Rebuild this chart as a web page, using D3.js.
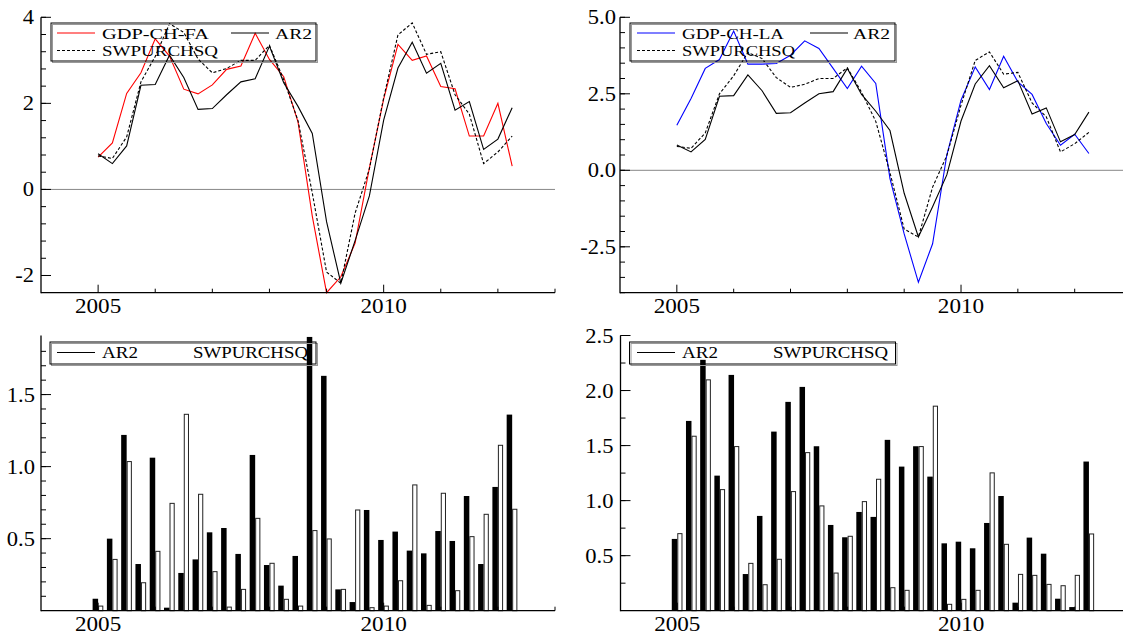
<!DOCTYPE html>
<html>
<head>
<meta charset="utf-8">
<script src="https://cdn.jsdelivr.net/npm/d3@7"></script>
<style>
  body { margin: 0; background: #fff; }
  svg { display: block; font-family: "Liberation Serif", "Times New Roman", serif; }
</style>
</head>
<body>
<div id="chart"></div>
<script>
// quarterly observations, 2005Q1 .. 2012Q2
let quarters = [
    "2005Q1", "2005Q2", "2005Q3", "2005Q4", "2006Q1", "2006Q2", "2006Q3", "2006Q4",
    "2007Q1", "2007Q2", "2007Q3", "2007Q4", "2008Q1", "2008Q2", "2008Q3", "2008Q4",
    "2009Q1", "2009Q2", "2009Q3", "2009Q4", "2010Q1", "2010Q2", "2010Q3", "2010Q4",
    "2011Q1", "2011Q2", "2011Q3", "2011Q4", "2012Q1", "2012Q2"
];

let gdpFA = [0.75, 1.08, 2.23, 2.71, 3.5, 3.1, 2.33, 2.22, 2.43, 2.79, 2.87, 3.63, 3.02, 2.62, 1.57,
    -0.62, -2.4, -2.03, -1.25, 0.5, 2.1, 3.37, 3.0, 3.1, 2.39, 2.34, 1.24, 1.24, 2.0, 0.54];
let gdpLA = [1.47, 2.35, 3.33, 3.62, 4.55, 3.47, 3.47, 3.49, 3.76, 4.23, 3.98, 3.33, 2.67, 3.4, 2.84,
    -0.27, -2.08, -3.66, -2.4, 0.5, 2.29, 3.38, 2.64, 3.73, 2.89, 2.48, 1.53, 0.82, 1.18, 0.55];
let ar2 = [0.83, 0.6, 1.01, 2.42, 2.44, 3.12, 2.6, 1.86, 1.88, 2.2, 2.5, 2.57, 3.33, 2.48, 1.93,
    1.3, -0.75, -2.18, -1.19, -0.15, 1.61, 2.82, 3.42, 2.7, 2.93, 1.84, 2.04, 0.93, 1.17, 1.9];
let swpurchsq = [0.78, 0.72, 1.22, 2.5, 3.09, 3.85, 3.65, 3.03, 2.71, 2.81, 3.0, 3.0, 3.35, 2.55, 1.6,
    -0.08, -1.92, -2.18, -0.55, 0.48, 2.13, 3.59, 3.87, 3.14, 3.2, 2.2, 1.75, 0.6, 0.87, 1.24];

// absolute forecast errors (bars)
let errAR2FA = [0.083, 0.5, 1.22, 0.324, 1.062, 0.021, 0.262, 0.356, 0.544, 0.574, 0.394, 1.081, 0.317, 0.174, 0.38,
    1.9, 1.63, 0.148, 0.06, 0.699, 0.491, 0.549, 0.417, 0.398, 0.553, 0.484, 0.796, 0.324, 0.859, 1.361];
let errSWPFA = [0.032, 0.356, 1.035, 0.194, 0.412, 0.745, 1.363, 0.808, 0.271, 0.025, 0.148, 0.641, 0.329, 0.079, 0.032,
    0.556, 0.498, 0.148, 0.699, 0.021, 0.032, 0.208, 0.873, 0.037, 0.815, 0.139, 0.514, 0.669, 1.148, 0.704];
let errAR2LA = [0.652, 1.724, 2.279, 1.227, 2.142, 0.333, 0.861, 1.627, 1.897, 2.033, 1.494, 0.779, 0.667, 0.897, 0.852,
    1.552, 1.309, 1.494, 1.218, 0.612, 0.627, 0.567, 0.797, 1.042, 0.073, 0.664, 0.518, 0.109, 0.033, 1.355];
let errSWPLA = [0.7, 1.585, 2.097, 1.1, 1.491, 0.43, 0.236, 0.467, 1.082, 1.436, 0.952, 0.342, 0.676, 0.991, 1.194,
    0.209, 0.185, 1.491, 1.858, 0.058, 0.103, 0.185, 1.252, 0.603, 0.33, 0.321, 0.239, 0.227, 0.321, 0.697];

let xTickLabels = [2005, 2010];

let WIDTH = 1129, HEIGHT = 637;

// quarter string -> decimal year
function toYear(q) {
    return +q.slice(0, 4) + (+q.slice(5) - 1) / 4;
}

let svg = d3.select("#chart").append("svg")
    .attr("width", WIDTH)
    .attr("height", HEIGHT);

// horizontally stretched text, like the original figure
function stretchedText(parent, x, y, txt, size, anchor, sx) {
    parent.append("g")
        .attr("transform", `translate(${x},${y}) scale(${sx},1)`)
        .append("text")
        .attr("text-anchor", anchor)
        .attr("font-size", size)
        .attr("fill", "#000")
        .text(txt);
}

/**
 * Draw the axes frame (left + bottom), inward ticks and labels.
 */
function drawAxes(g, x, y, opts) {
    let [x0, x1] = x.range();
    let [y0, y1] = y.range();

    // x ticks: one per year, major on labelled years
    let years = d3.range(Math.ceil(x.domain()[0]) + 1, Math.floor(x.domain()[1]) + 1);
    years.forEach(yr => {
        let major = xTickLabels.includes(yr);
        g.append("line")
            .attr("x1", x(yr)).attr("x2", x(yr))
            .attr("y1", y0).attr("y2", y0 - (major ? 8 : 4))
            .attr("stroke", "#000").attr("stroke-width", 1);
    });
    xTickLabels.forEach(yr => {
        stretchedText(g, x(yr), y0 + 20.5, yr, 20.5, "middle", 1.13);
    });

    // y ticks
    opts.minorTicks.forEach(v => {
        g.append("line")
            .attr("x1", x0).attr("x2", x0 + 5)
            .attr("y1", y(v)).attr("y2", y(v))
            .attr("stroke", "#000").attr("stroke-width", 1);
    });
    opts.majorTicks.forEach((v, i) => {
        g.append("line")
            .attr("x1", x0).attr("x2", x0 + 10)
            .attr("y1", y(v)).attr("y2", y(v))
            .attr("stroke", "#000").attr("stroke-width", 1);
        stretchedText(g, x0 - opts.labelGap, y(v) + 7, opts.labels[i], 20.5, "end", 1.1);
    });

    // axis lines
    g.append("line")
        .attr("x1", x0).attr("x2", x0).attr("y1", y0 + 0.5).attr("y2", y1)
        .attr("stroke", "#000").attr("stroke-width", 1.3);
    g.append("line")
        .attr("x1", x0).attr("x2", x1).attr("y1", y0).attr("y2", y0)
        .attr("stroke", "#000").attr("stroke-width", 1.3);
}

/**
 * Legend box (transparent, with a light shadow) and its entries.
 */
function drawLegend(g, box, items, fontSize) {
    g.append("rect")
        .attr("x", box.x + 1.5).attr("y", box.y + 1.5)
        .attr("width", box.w).attr("height", box.h)
        .attr("fill", "none").attr("stroke", "#999").attr("stroke-width", 1);
    g.append("rect")
        .attr("x", box.x).attr("y", box.y)
        .attr("width", box.w).attr("height", box.h)
        .attr("fill", "none").attr("stroke", "#000").attr("stroke-width", 1);

    items.forEach(it => {
        if (it.color) {
            g.append("line")
                .attr("x1", it.x).attr("x2", it.x + 38)
                .attr("y1", it.y).attr("y2", it.y)
                .attr("stroke", it.color).attr("stroke-width", 1.1)
                .attr("stroke-dasharray", it.dash || null);
        }
        g.append("text")
            .attr("x", it.tx).attr("y", it.y + 5.5)
            .attr("font-size", fontSize)
            .attr("textLength", it.tw)
            .attr("lengthAdjust", "spacingAndGlyphs")
            .text(it.label);
    });
}

function drawLinePanel(cfg) {
    let g = svg.append("g");
    let x = d3.scaleLinear().domain(cfg.xDomain).range(cfg.xRange);
    let y = d3.scaleLinear().domain(cfg.yDomain).range([292.7, 17.3]);

    // zero line
    g.append("line")
        .attr("x1", cfg.xRange[0]).attr("x2", cfg.xRange[1])
        .attr("y1", y(0)).attr("y2", y(0))
        .attr("stroke", "#888").attr("stroke-width", 1);

    cfg.series.forEach(s => {
        let line = d3.line()
            .x((d, i) => x(toYear(quarters[i])))
            .y(d => y(d));
        g.append("path")
            .datum(s.values)
            .attr("d", line)
            .attr("fill", "none")
            .attr("stroke", s.color)
            .attr("stroke-width", 1.1)
            .attr("stroke-dasharray", s.dash || null);
    });

    drawAxes(g, x, y, cfg.axis);
    drawLegend(g, cfg.legendBox, cfg.legendItems, 15.5);
}

function drawBarPanel(cfg) {
    let g = svg.append("g");
    let x = d3.scaleLinear().domain(cfg.xDomain).range(cfg.xRange);
    let y = d3.scaleLinear().domain(cfg.yDomain).range([610.7, 335.5]);

    let blackW = 5.5, whiteW = 4.2;

    g.selectAll("rect.ar2")
        .data(cfg.black)
        .enter().append("rect")
        .attr("class", "ar2")
        .attr("x", (d, i) => x(toYear(quarters[i])) - blackW)
        .attr("y", d => y(d))
        .attr("width", blackW)
        .attr("height", d => y(0) - y(d))
        .attr("fill", "#000");

    g.selectAll("rect.swp")
        .data(cfg.white)
        .enter().append("rect")
        .attr("class", "swp")
        .attr("x", (d, i) => x(toYear(quarters[i])) + 0.5)
        .attr("y", d => y(d))
        .attr("width", whiteW)
        .attr("height", d => y(0) - y(d))
        .attr("fill", "#fff")
        .attr("stroke", "#222")
        .attr("stroke-width", 1);

    drawAxes(g, x, y, cfg.axis);
    drawLegend(g, cfg.legendBox, cfg.legendItems, 17);
}

// top-left: GDP-CH-FA
drawLinePanel({
    xDomain: [2004, 2013], xRange: [41, 555],
    yDomain: [-2.4, 4.0],
    series: [
        { values: gdpFA, color: "#ff0000" },
        { values: ar2, color: "#000" },
        { values: swpurchsq, color: "#000", dash: "3,2" }
    ],
    axis: {
        majorTicks: [-2, 0, 2, 4], labels: ["-2", "0", "2", "4"],
        minorTicks: d3.range(-2.0, 4.01, 0.4), labelGap: 7
    },
    legendBox: { x: 51, y: 23, w: 265, h: 38 },
    legendItems: [
        { label: "GDP-CH-FA", color: "#ff0000", x: 57, y: 33, tx: 102, tw: 107 },
        { label: "AR2", color: "#000", x: 231, y: 33, tx: 275, tw: 37 },
        { label: "SWPURCHSQ", color: "#000", dash: "3,2", x: 57, y: 50.5, tx: 102, tw: 116 }
    ]
});

// top-right: GDP-CH-LA
drawLinePanel({
    xDomain: [2004, 2012.85], xRange: [620, 1123],
    yDomain: [-4.0, 5.0],
    series: [
        { values: gdpLA, color: "#0000ff" },
        { values: ar2, color: "#000" },
        { values: swpurchsq, color: "#000", dash: "3,2" }
    ],
    axis: {
        majorTicks: [-2.5, 0, 2.5, 5], labels: ["-2.5", "0.0", "2.5", "5.0"],
        minorTicks: d3.range(-4.0, 5.01, 0.5), labelGap: 4
    },
    legendBox: { x: 630, y: 23, w: 265, h: 38 },
    legendItems: [
        { label: "GDP-CH-LA", color: "#0000ff", x: 637, y: 33, tx: 682, tw: 102 },
        { label: "AR2", color: "#000", x: 810, y: 33, tx: 853, tw: 37 },
        { label: "SWPURCHSQ", color: "#000", dash: "3,2", x: 637, y: 50.5, tx: 682, tw: 113 }
    ]
});

// bottom-left: absolute errors vs GDP-CH-FA
drawBarPanel({
    xDomain: [2004, 2013], xRange: [41, 555],
    yDomain: [0, 1.91],
    black: errAR2FA, white: errSWPFA,
    axis: {
        majorTicks: [0.5, 1.0, 1.5], labels: ["0.5", "1.0", "1.5"],
        minorTicks: d3.range(0.1, 1.85, 0.1), labelGap: 6
    },
    legendBox: { x: 50, y: 342, w: 266, h: 22 },
    legendItems: [
        { label: "AR2", color: "#000", x: 57, y: 352.5, tx: 102, tw: 36 },
        { label: "SWPURCHSQ", x: 150, y: 352.5, tx: 193, tw: 115 }
    ]
});

// bottom-right: absolute errors vs GDP-CH-LA
drawBarPanel({
    xDomain: [2004, 2012.85], xRange: [620.5, 1123],
    yDomain: [0, 2.5],
    black: errAR2LA, white: errSWPLA,
    axis: {
        majorTicks: [0.5, 1.0, 1.5, 2.0, 2.5], labels: ["0.5", "1.0", "1.5", "2.0", "2.5"],
        minorTicks: d3.range(0.25, 2.51, 0.25), labelGap: 7
    },
    legendBox: { x: 629.5, y: 342, w: 266, h: 22 },
    legendItems: [
        { label: "AR2", color: "#000", x: 637, y: 352.5, tx: 682, tw: 36 },
        { label: "SWPURCHSQ", x: 730, y: 352.5, tx: 773, tw: 115 }
    ]
});
</script>
</body>
</html>
